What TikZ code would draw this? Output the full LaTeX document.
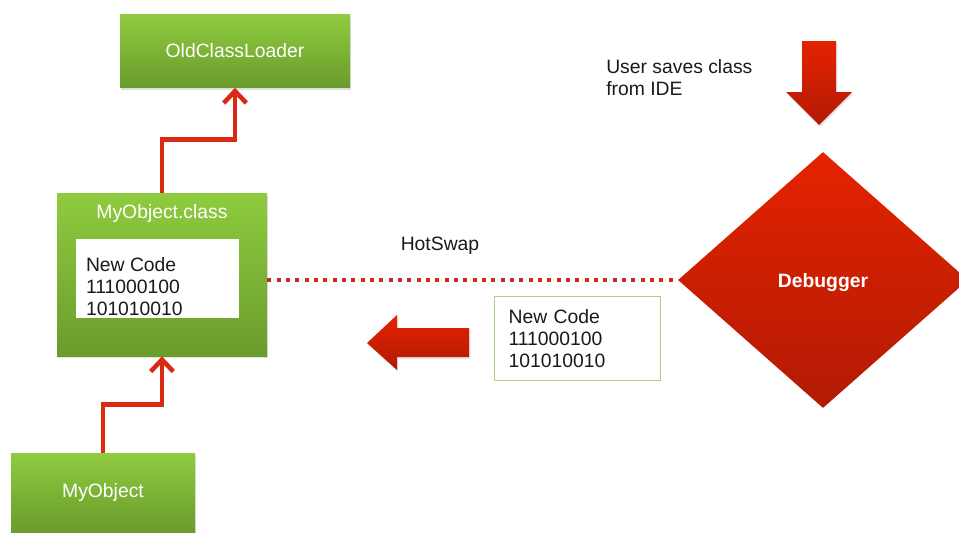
\documentclass[tikz,border=0pt]{standalone}
\usepackage{fontspec}
\setmainfont{Liberation Sans}
\usetikzlibrary{arrows.meta,shapes.geometric,shadows}
\definecolor{gtop}{HTML}{8FCB3F}
\definecolor{gbot}{HTML}{6A9C2C}
\definecolor{rtop}{HTML}{E42300}
\definecolor{rbot}{HTML}{B21A04}
\definecolor{conred}{HTML}{DA2A12}
\definecolor{dotred}{HTML}{CC2A1C}
\definecolor{lgreen}{HTML}{A9D18E}
\definecolor{txt}{HTML}{1A1A1A}
\begin{document}
\begin{tikzpicture}[x=0.75pt,y=-0.75pt,
  every node/.style={font=\fontsize{14.5}{16.5}\selectfont},
  greenbox/.style={rectangle, inner sep=0pt, top color=gtop, bottom color=gbot,
    draw=none, text=white,
    drop shadow={shadow xshift=1pt,shadow yshift=-1.5pt,opacity=0.25}},
  whitebox/.style={rectangle, inner sep=0pt, fill=white, draw=none},
  codetext/.style={align=left, text=txt, inner sep=0pt},
  conn/.style={draw=conred, line width=3.4pt, line cap=butt, line join=miter,
    -{Straight Barb[length=9pt,width=17pt,line width=3.4pt]}},
  dotline/.style={draw=dotred, line width=3pt, dash pattern=on 3pt off 4pt},
  bigarrow/.style={top color=rtop, bottom color=rbot, draw=none,
    drop shadow={shadow xshift=1pt,shadow yshift=-1.5pt,opacity=0.2}},
  plain/.style={text=txt, inner sep=0pt, align=left}
]
\useasboundingbox (0,0) rectangle (959,532);

% green boxes
\node[greenbox, minimum width=172.5pt, minimum height=54.75pt] (ocl) at (235,51) {OldClassLoader};
\node[greenbox, minimum width=157.5pt, minimum height=122.25pt] (mc) at (162,274.5) {};
\node[text=white, inner sep=0pt] (mctitle) at (162,213.5) {MyObject.class};
\node[whitebox, minimum width=122.25pt, minimum height=59.25pt] (code1) at (157.5,278.5) {};
\node[codetext, anchor=west] (code1t) at ([xshift=7.5pt,yshift=-5.9pt]code1.west) {New Code\\111000100\\101010010};
\node[greenbox, minimum width=138pt, minimum height=59.25pt] (mo) at (103,492.5) {MyObject};

% debugger diamond
\node[diamond, inner sep=0pt, minimum width=217.5pt, minimum height=192pt,
  top color=rtop, bottom color=rbot, draw=none, text=white, text depth=0pt,
  font=\fontsize{14.5}{16.5}\selectfont\bfseries] (dbg) at (823,280) {Debugger};

% texts
\node[plain] (hot) at (440,245.5) {HotSwap};
\node[plain, anchor=west] (user) at (606,78) {User saves class\\from IDE};
\node[draw=lgreen, line width=0.9pt, fill=white, inner xsep=10.5pt, inner ysep=0pt,
  text width=103.5pt, minimum height=63pt, align=left, text=txt, anchor=west] (code2)
  at (494,338.5) {New Code\\111000100\\101010010};

% connectors
\draw[conn] (mc.north) -- ++(0,-53) -| (ocl.south);
\draw[conn] (mo.north) -- ++(0,-48) -| (mc.south);
\draw[dotline] (mc.east |- dbg.west) -- (dbg.west);

% big block arrows
\shade[bigarrow] (802,41) -- (836,41) -- (836,92) -- (852,92) -- (819,125) -- (786,92) -- (802,92) -- cycle;
\shade[bigarrow] (469,328) -- (397,328) -- (397,315) -- (367,343) -- (397,370) -- (397,357) -- (469,357) -- cycle;
\end{tikzpicture}
\end{document}
